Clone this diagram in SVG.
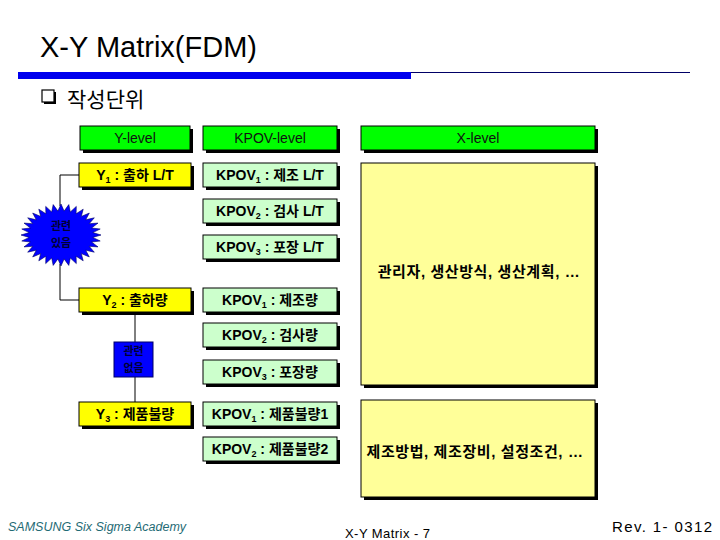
<svg xmlns="http://www.w3.org/2000/svg" width="720" height="540" viewBox="0 0 720 540">
<defs>
<style>
.t{font-family:"Liberation Sans","Noto Sans CJK KR",sans-serif;}
.bx{stroke:#000;stroke-width:1;}
.sh{fill:#000;}
.hd{fill:#00FF00;}
.yl{fill:#FFFF00;}
.kp{fill:#CCFFCC;}
.xl{fill:#FFFF99;}
.lbl{font-family:"Liberation Sans","Noto Sans CJK KR",sans-serif;font-size:14px;font-weight:bold;fill:#000;text-anchor:middle;}
.xt{font-family:"Liberation Sans","Noto Sans CJK KR",sans-serif;font-size:15px;font-weight:bold;fill:#000;text-anchor:middle;letter-spacing:0.6px;}
.hl{font-family:"Liberation Sans","Noto Sans CJK KR",sans-serif;font-size:14px;fill:#111;text-anchor:middle;}
.bl{font-family:"Noto Sans CJK KR",sans-serif;font-size:11px;font-weight:bold;fill:#000033;text-anchor:middle;}
.cn{stroke:#000;stroke-width:1;fill:none;}
</style>
</defs>
<rect width="720" height="540" fill="#fff"/>
<text x="40" y="57" class="t" font-size="29" fill="#000">X-Y Matrix(FDM)</text>
<rect x="18" y="72" width="393" height="7" fill="#0000EE"/>
<line x1="411" y1="72.5" x2="690" y2="72.5" stroke="#000066" stroke-width="1"/>
<g id="bullet">
<rect x="44" y="92" width="12" height="12" fill="#000"/>
<rect x="42" y="90" width="12" height="12" fill="#fff" stroke="#000" stroke-width="1.2"/>
<text x="67" y="107" font-family="Noto Sans CJK KR,sans-serif" font-size="21" fill="#000">작성단위</text>
</g>

<g id="connectors">
<polyline class="cn" points="79,175 60,175 60,206"/>
<polyline class="cn" points="60,264 60,300 79,300"/>
<line class="cn" x1="135" y1="312" x2="135" y2="402"/>
</g>

<g id="h-y"><rect class="sh" x="83" y="129" width="110" height="24"/><rect class="bx hd" x="80" y="126" width="110" height="24"/><text class="hl" x="135" y="143">Y-level</text></g>
<g id="h-kpov"><rect class="sh" x="206" y="129" width="134" height="24"/><rect class="bx hd" x="203" y="126" width="134" height="24"/><text class="hl" x="270" y="143">KPOV-level</text></g>
<g id="h-x"><rect class="sh" x="364" y="129" width="234" height="24"/><rect class="bx hd" x="361" y="126" width="234" height="24"/><text class="hl" x="478" y="143">X-level</text></g>

<g id="y1"><rect class="sh" x="82" y="166" width="112" height="24"/><rect class="bx yl" x="79" y="163" width="112" height="24"/><text class="lbl" x="135" y="180">Y<tspan dy="3" font-size="9">1</tspan><tspan dy="-3"> : 출하 L/T</tspan></text></g>
<g id="k11"><rect class="sh" x="206" y="166" width="134" height="24"/><rect class="bx kp" x="203" y="163" width="134" height="24"/><text class="lbl" x="270" y="180">KPOV<tspan dy="3" font-size="9">1</tspan><tspan dy="-3"> : 제조 L/T</tspan></text></g>
<g id="k12"><rect class="sh" x="206" y="202" width="134" height="24"/><rect class="bx kp" x="203" y="199" width="134" height="24"/><text class="lbl" x="270" y="216">KPOV<tspan dy="3" font-size="9">2</tspan><tspan dy="-3"> : 검사 L/T</tspan></text></g>
<g id="k13"><rect class="sh" x="206" y="238" width="134" height="24"/><rect class="bx kp" x="203" y="235" width="134" height="24"/><text class="lbl" x="270" y="252">KPOV<tspan dy="3" font-size="9">3</tspan><tspan dy="-3"> : 포장 L/T</tspan></text></g>

<g id="x1"><rect class="sh" x="364" y="166" width="234" height="222"/><rect class="bx xl" x="361" y="163" width="234" height="222"/><text class="xt" x="479" y="277">관리자, 생산방식, 생산계획, …</text></g>

<g id="burst">
<polygon fill="#0000FF" stroke="#000066" stroke-width="0.6" points="101,235 92.8,237.4 100.2,241 91.6,242 98,246.9 89.2,246.3 94.3,252.2 85.7,250.2 89.3,256.9 81.3,253.6 83.2,260.8 76.1,256.2 76.3,263.6 70.3,258 68.8,265.4 64.1,258.9 61,266 57.9,258.9 53.2,265.4 51.7,258 45.7,263.6 45.9,256.2 38.8,260.8 40.7,253.6 32.7,256.9 36.3,250.2 27.7,252.2 32.8,246.3 24,246.9 30.4,242 21.8,241 29.2,237.4 21,235 29.2,232.6 21.8,229 30.4,228 24,223.1 32.8,223.7 27.7,217.8 36.3,219.8 32.7,213.1 40.7,216.4 38.8,209.2 45.9,213.8 45.7,206.4 51.7,212 53.2,204.6 57.9,211.1 61,204 64.1,211.1 68.8,204.6 70.3,212 76.3,206.4 76.1,213.8 83.2,209.2 81.3,216.4 89.3,213.1 85.7,219.8 94.3,217.8 89.2,223.7 98,223.1 91.6,228 100.2,229 92.8,232.6"/>
<text class="bl" x="61" y="230">관련</text>
<text class="bl" x="61" y="247">있음</text>
</g>

<g id="y2"><rect class="sh" x="82" y="291" width="112" height="24"/><rect class="bx yl" x="79" y="288" width="112" height="24"/><text class="lbl" x="135" y="305">Y<tspan dy="3" font-size="9">2</tspan><tspan dy="-3"> : 출하량</tspan></text></g>
<g id="k21"><rect class="sh" x="206" y="291" width="134" height="24"/><rect class="bx kp" x="203" y="288" width="134" height="24"/><text class="lbl" x="270" y="305">KPOV<tspan dy="3" font-size="9">1</tspan><tspan dy="-3"> : 제조량</tspan></text></g>
<g id="k22"><rect class="sh" x="206" y="326" width="134" height="24"/><rect class="bx kp" x="203" y="323" width="134" height="24"/><text class="lbl" x="270" y="340">KPOV<tspan dy="3" font-size="9">2</tspan><tspan dy="-3"> : 검사량</tspan></text></g>
<g id="k23"><rect class="sh" x="206" y="363" width="134" height="24"/><rect class="bx kp" x="203" y="360" width="134" height="24"/><text class="lbl" x="270" y="377">KPOV<tspan dy="3" font-size="9">3</tspan><tspan dy="-3"> : 포장량</tspan></text></g>

<g id="norel"><rect x="114" y="342" width="39" height="35" fill="#0000FF" stroke="#000066" stroke-width="1"/><text class="bl" x="133.5" y="355">관련</text><text class="bl" x="133.5" y="372">없음</text></g>

<g id="y3"><rect class="sh" x="82" y="405" width="112" height="24"/><rect class="bx yl" x="79" y="402" width="112" height="24"/><text class="lbl" x="135" y="419">Y<tspan dy="3" font-size="9">3</tspan><tspan dy="-3"> : 제품불량</tspan></text></g>
<g id="k31"><rect class="sh" x="206" y="405" width="134" height="24"/><rect class="bx kp" x="203" y="402" width="134" height="24"/><text class="lbl" x="270" y="419">KPOV<tspan dy="3" font-size="9">1</tspan><tspan dy="-3"> : 제품불량1</tspan></text></g>
<g id="k32"><rect class="sh" x="206" y="440" width="134" height="24"/><rect class="bx kp" x="203" y="437" width="134" height="24"/><text class="lbl" x="270" y="454">KPOV<tspan dy="3" font-size="9">2</tspan><tspan dy="-3"> : 제품불량2</tspan></text></g>

<g id="x2"><rect class="sh" x="364" y="403" width="234" height="97"/><rect class="bx xl" x="361" y="400" width="234" height="97"/><text class="xt" x="475" y="457">제조방법, 제조장비, 설정조건, …</text></g>

<text x="8" y="531" class="t" font-size="12.5" font-style="italic" fill="#1F6B75">SAMSUNG Six Sigma Academy</text>
<text x="345" y="538" class="t" font-size="13" fill="#000" textLength="85">X-Y Matrix - 7</text>
<text x="612" y="532" class="t" font-size="15" fill="#000" textLength="100">Rev. 1- 0312</text>
</svg>
